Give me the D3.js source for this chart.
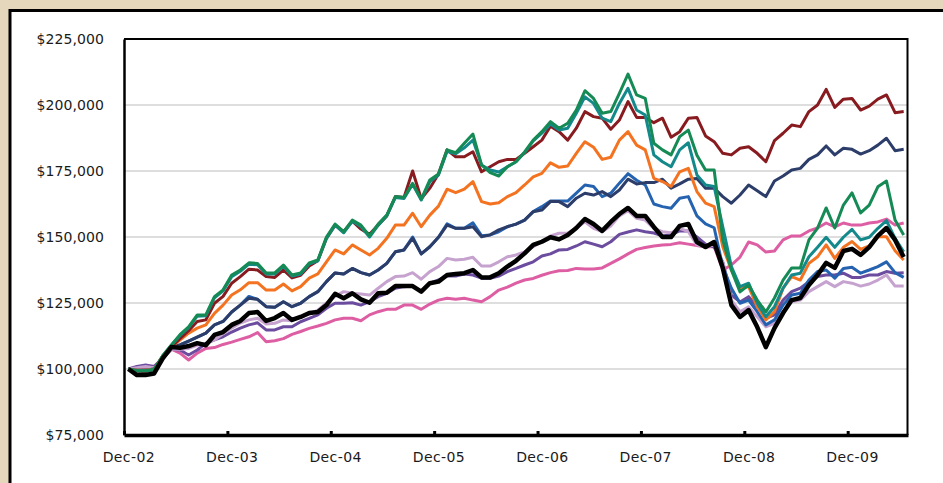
<html>
<!-- growth of $100,000, Dec-02 to Jun-10, monthly -->
<script src='https://cdn.jsdelivr.net/npm/d3@7/dist/d3.min.js'></script>

<style>
  body {margin: 0; background: #e5d7bb;}
  text {font-family: 'DejaVu Sans', sans-serif; font-size: 14px; fill: #1a1a1a;}
</style>

<body>
<svg id="chart" width=943 height=483></svg>

<script>
// values in $ thousands, one per month starting Dec-02 (91 months, to Jun-10)
const black = [100,97.7,97.7,98.3,104,108.3,108,108.7,109.8,109,112.9,114,116.7,118.2,121.2,121.6,118.2,119.3,121.2,118.6,
  119.7,121.2,121.6,124.2,128.5,126.8,128.7,126.4,125.1,128.7,128.9,131.4,131.4,131.4,129.3,132.5,133.1,135.6,136,136.3,
  137.5,134.7,134.7,136.3,138.8,141,143.8,147,148.2,149.9,149.1,150.8,153.4,156.8,154.9,152.3,155.7,158.7,161,158,
  158,153.8,150,150,154.2,154.9,148.1,146.2,148.1,138.3,124.2,119.7,122.3,115.9,108.3,115.5,121.2,126.1,126.9,131.8,
  135.6,140.2,138.3,144.7,145.5,143.2,146.2,150.4,153.4,148.9,142.4];

const green = [100,99.3,99.3,99.8,105,109.1,113,116,120.5,120.5,127.4,130,135.6,137.5,140.2,140,136.4,136.4,139.4,135.6,
  136.4,140.2,141.3,150,154.9,152,156.4,154.5,150.4,154.9,158.3,165.3,165,170.3,164.3,171.6,173.9,183,181.9,185.5,
  189,177.3,174.4,173.1,176.6,178.5,182.2,186.7,189.9,193.7,191.2,193.1,198.1,205.4,202.5,196.9,197.5,204.4,211.7,203.8,
  202.5,185.5,183,181.1,188,190.5,181,175.4,175.4,148.9,137.5,129.2,131.8,126.1,121.6,126.9,133.7,138.3,138.3,148.9,
  153.4,161,153.4,162.1,166.7,159.1,162.1,169,171.2,156.4,150.8];

const teal = [100,99.3,99.3,99.8,105,109,112.7,115.7,120,120.2,127,129.6,135,137,139.7,139.5,136,136,139,135.2,
  136,139.8,141,149.5,154.5,151.6,156,154,150,154.5,158,165,164.6,170,164,171,173.5,182.5,181.5,183.8,
  186.7,177.3,175.4,174.6,176.6,178.5,182,186.4,189.3,192.8,190.5,191.2,196.9,203.1,200.6,195,193.7,200.6,206.3,198.1,
  196.2,181.1,178.5,176.6,183,185.7,173.5,169.7,169.1,153.9,138.8,131.2,132.5,124.9,119.8,123.6,130.6,135.6,136.3,142.5,
  146.1,149.9,146.1,149.9,152.9,148.9,149.9,153.3,156.2,149.5,144.4];

const darkRed = [100,99.2,99,99.8,104.8,108.5,111.5,114.5,118,118.6,124.9,127.5,132.5,135,137.8,137.5,135,134.7,137.5,134.5,
  135.5,139,141,149.5,154.5,152,156,153,151,154.5,158,165.3,165,175,164.5,168.5,173.9,183,180.4,180.4,
  182.3,174.7,176.6,178.5,179.4,179.4,181.7,184.2,186.7,192,189.9,186.7,191.2,197.5,195.6,195,190.8,194.3,201.3,195.3,
  195.3,193.3,195,187.8,189.9,195,195.3,188.3,186.1,181.7,181.1,183.6,184.2,181.7,178.5,186.5,189.3,192.4,191.8,197.5,
  200,205.9,199.1,202.2,202.5,198.1,199.6,202.2,203.8,197.1,197.5];

const navy = [100,99.5,99.5,100,104.5,108.5,109.1,110.6,112.1,113.6,116.7,118,121.6,124.2,126.8,126.4,123.6,123.4,125.5,123.6,
  124.9,127.4,129.3,133.1,136.4,136,138.1,136.5,135.6,137.5,140,144.4,145.1,149.5,143.6,146.3,149.9,154.5,153.3,153.3,
  153.9,150.1,150.8,152.7,153.9,154.9,156.4,159.6,160.2,163.4,163.4,161.5,164.7,166.6,165.9,167.2,165.3,167.8,171.9,170.1,
  170.6,170.6,171.9,168.5,170.1,171.9,172.2,168.5,168.5,165.3,162.8,165.9,169.7,167.5,165.3,171.2,173.1,175.4,176,179.4,
  181.1,184.5,181.1,183.6,183.2,181.4,182.7,184.8,187.4,182.7,183.2];

const blue = [100,99.5,99.5,100,104.5,108.5,109.1,110.6,112.1,113.6,116.7,118,121.6,124.2,127.5,126.4,123.6,123.4,125.5,123.6,
  124.9,127.4,129.3,133.1,136.4,136,138.1,136.5,135.6,137.5,140,144.4,145.1,150,143.6,146.3,149.9,155,153.3,153.3,
  155.4,150.5,150.8,152,153.9,154.9,156.4,159.6,161.5,163.6,163.6,163.6,166.6,169.7,169.1,165.3,166.6,170.4,174,171.5,
  169.7,162.5,161.5,160.9,164.7,165.3,158,155,153.5,138.8,130.6,124.9,126.1,121.7,116.7,118.6,124.2,128,128.7,133.7,
  136.9,137.5,134.4,138.1,138.5,136.3,137.5,138.8,140.6,136.5,134.7];

const orange = [100,99.5,99.5,100,105,108.5,111,113.6,115.5,116.7,121.1,124.2,128,130,132.7,132.7,129.9,129.9,132.2,129.6,
  131.2,134.4,136,140.6,145.1,143.6,147,145.1,143.2,145.7,149.5,154.5,154.5,159,153.9,158.3,161.7,168.1,166.8,168.1,
  171,163.4,162.5,163,165.3,166.8,169.7,172.8,174.1,178.1,176.4,176.9,181.7,186.1,184,179.4,180.2,186.7,189.9,184.8,
  183,172.2,171,169.1,174.7,176,167.2,162.8,161.5,146.3,137.5,130.6,131.2,123.6,118.6,121.7,130.6,135,133.7,140,
  142.5,147,141.9,146.1,148.3,145.3,146.6,150.1,150.1,144.8,141.3];

const lavender = [100,100.5,101,100.5,104,107.5,107.5,107.8,109,109.8,111,113.3,115.5,117.4,118.6,119.2,117,117.3,118.6,118.3,
  119.8,120.8,122.3,125,127.5,129.3,128.7,128.4,128,130.6,133.1,135,135.2,136.5,134,136.9,138.8,141.9,141.3,141.6,
  142.3,139,139,140.6,142.5,143.2,144.4,146.3,148.2,150.4,151.4,151.5,153.4,155.8,153.3,152,154.2,158,160,157.1,
  156.4,153.3,152,151.6,153.3,152,147,146.1,147,140.5,126.1,121.7,123.6,119.8,116,117.3,121.7,125.5,126.1,129.3,
  131.2,133.1,131.2,133.1,132.5,131.4,132.2,133.7,135.6,131.4,131.4];

const purple = [100,101,101.5,101,104,107.5,107.2,105.3,107.2,109.7,111,112.2,114,115.5,116.7,117.5,114.8,114.8,116,116,
  117.9,119.2,120.5,123,124.9,124.9,125.1,124.2,125.5,127.4,128.7,130.6,131.2,131.4,129.3,132.5,133.7,135.2,135.2,136,
  135.6,134.4,134.4,135.2,136.9,138.1,139.4,140.6,142.8,143.6,145.1,145.3,146.6,148.2,147.3,146.3,148.2,151,151.9,152.7,
  152,151.5,150.4,150.9,152.3,152.3,150,147.3,146.2,140.5,128,125.4,127.4,123.6,119.2,120.5,126.1,129.3,130.6,133.1,
  135,135.6,135.6,136.3,134.7,134.7,135.6,135.6,136.9,136.3,136.5];

const pink = [100,100.3,100,100.3,104,107.5,106,103.4,106,107.8,108.1,109.3,110.2,111.2,112.2,113.8,110.3,110.7,111.5,113.1,
  114.2,115.4,116.3,117.3,118.6,119.2,119.2,118.3,120.5,121.7,122.6,122.6,124.2,124.2,122.6,124.6,126.1,126.8,126.4,126.8,
  126.1,125.5,127.4,129.9,131,132.5,133.7,134.3,135.5,136.5,137.2,137.3,138.1,137.9,137.9,138.3,140,141.7,143.6,145.3,
  146,146.6,147,147.2,147.8,147.3,146.8,146.2,146.4,137.5,139.4,142.4,148.1,147,144.3,144.7,148.9,150.4,150.4,152.3,
  153.4,155.3,153.8,155.3,154.5,154.5,155.3,155.7,156.8,154.5,155.3];

// axis values
const yTicks = [75, 100, 125, 150, 175, 200, 225];
const gridTicks = [100, 125, 150, 175, 200];
const xLabels = ['Dec-02','Dec-03','Dec-04','Dec-05','Dec-06','Dec-07','Dec-08','Dec-09'];

// draw order, bottom to top
const seriesList = [
  {vals: pink, color: '#dd5ea3', w: 3},
  {vals: purple, color: '#6b4c9e', w: 3},
  {vals: lavender, color: '#c6a2cf', w: 3},
  {vals: blue, color: '#2563b0', w: 3},
  {vals: navy, color: '#2c3d69', w: 3},
  {vals: orange, color: '#f47321', w: 3},
  {vals: darkRed, color: '#881b1f', w: 3},
  {vals: teal, color: '#13898b', w: 3},
  {vals: green, color: '#158a55', w: 3},
  {vals: black, color: '#000000', w: 4.5}
];

const svg = d3.select('#chart');

// white panel with heavy border, runs off the right/bottom edge
svg.append('rect')
  .attr('x', 10).attr('y', 10.5)
  .attr('width', 1000).attr('height', 600)
  .attr('fill', 'white').attr('stroke', 'black').attr('stroke-width', 3);

// scales: points sit in the middle of each month slot, ticks on the slot edges
const xs = d3.scaleLinear().domain([-0.5, 90.5]).range([124, 908]);
const ys = d3.scaleLinear().domain([75, 225]).range([435, 39]);

// gridlines
svg.append('g')
  .selectAll('line')
  .data(gridTicks)
  .enter()
  .append('line')
    .attr('x1', 124).attr('x2', 908)
    .attr('y1', d => ys(d)).attr('y2', d => ys(d))
    .attr('stroke', '#bdbdbd').attr('stroke-width', 1);

// top and right border of the plot
svg.append('path')
  .attr('d', 'M' + xs(-0.5) + ',' + ys(225) + 'H' + (xs(90.5) - 0.5) + 'V' + ys(75))
  .attr('fill', 'none').attr('stroke', 'black').attr('stroke-width', 2);

// lines
const line = d3.line()
  .x((d, i) => xs(i))
  .y(d => ys(d));

svg.append('g')
  .selectAll('path')
  .data(seriesList)
  .enter()
  .append('path')
    .attr('d', d => line(d.vals))
    .attr('fill', 'none')
    .attr('stroke', d => d.color)
    .attr('stroke-width', d => d.w)
    .attr('stroke-linejoin', 'round');

// y axis
const yAxis = d3.axisLeft(ys)
  .tickValues(yTicks)
  .tickSize(0)
  .tickPadding(20)
  .tickFormat(d => '$' + d3.format(',')(d * 1000));

const gy = svg.append('g')
  .attr('transform', 'translate(124,0)')
  .call(yAxis);
gy.select('.domain').attr('stroke', 'black').attr('stroke-width', 2.5);
gy.selectAll('text').style('font-size', '14px').style('letter-spacing', '0.1px');

// x axis: tick marks on the year boundaries, pointing inwards
const xTickAxis = d3.axisBottom(xs)
  .tickValues(d3.range(0, 8).map(k => k * 12 - 0.5))
  .tickSize(-4)
  .tickSizeOuter(0)
  .tickFormat('');

const gx = svg.append('g')
  .attr('transform', 'translate(0,435)')
  .call(xTickAxis);
gx.select('.domain').attr('stroke', 'black').attr('stroke-width', 3.5);
gx.selectAll('.tick line').attr('stroke', 'black').attr('stroke-width', 3);

// x labels centred on the December points
const xLabelAxis = d3.axisBottom(xs)
  .tickValues(d3.range(0, 8).map(k => k * 12))
  .tickSize(0)
  .tickPadding(17)
  .tickFormat((d, i) => xLabels[i]);

const gxl = svg.append('g')
  .attr('transform', 'translate(0,435)')
  .call(xLabelAxis);
gxl.select('.domain').remove();
gxl.selectAll('text').style('font-size', '14px').style('letter-spacing', '0.4px');

</script>
</body>
</html>
